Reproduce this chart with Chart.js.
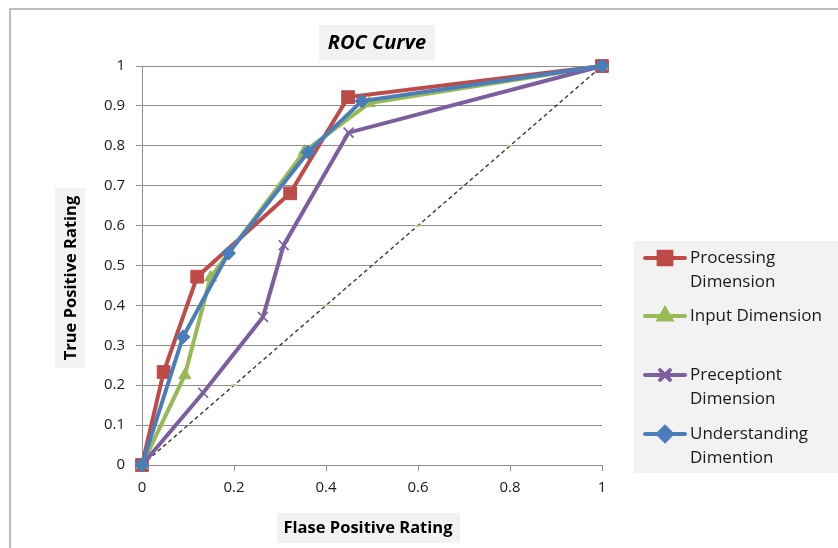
<!DOCTYPE html>
<html>
<head>
<meta charset="utf-8">
<script src="https://cdn.jsdelivr.net/npm/chart.js@4/dist/chart.umd.min.js"></script>
<style>
  html, body { margin: 0; padding: 0; background: #fff; }
  #wrap { width: 838px; height: 548px; }
</style>
</head>
<body>
<div id="wrap"><canvas id="myChart" width="838" height="548"></canvas></div>
<script>
// values
const seriesNames = ["Processing Dimension", "Input Dimension", "Preceptiont Dimension", "Understanding Dimention"];

const processingX = [0, 0.047, 0.12, 0.322, 0.448, 1];
const processingY = [0, 0.233, 0.472, 0.681, 0.922, 1];

const inputX = [0, 0.093, 0.149, 0.353, 0.494, 1];
const inputY = [0, 0.225, 0.47, 0.786, 0.907, 1];

const perceptionX = [0, 0.133, 0.263, 0.308, 0.449, 1];
const perceptionY = [0, 0.181, 0.371, 0.551, 0.833, 1];

const understandingX = [0, 0.089, 0.188, 0.361, 0.478, 1];
const understandingY = [0, 0.321, 0.531, 0.784, 0.912, 1];

const diagonalX = [0, 0.2, 0.4, 0.6, 0.8, 1];
const diagonalY = [0, 0.2, 0.4, 0.6, 0.8, 1];

const xTicks = [0, 0.2, 0.4, 0.6, 0.8, 1];
const yTicks = [0, 0.1, 0.2, 0.3, 0.4, 0.5, 0.6, 0.7, 0.8, 0.9, 1];

const FONT = "'Open Sans', sans-serif";

function pts(xs, ys) {
  return xs.map((x, i) => ({ x: x, y: ys[i] }));
}

function series(label, xs, ys, color, style, radius, order) {
  return {
    label: label,
    data: pts(xs, ys),
    borderColor: color,
    backgroundColor: color,
    borderWidth: 4,
    pointStyle: style,
    pointRadius: radius,
    pointHoverRadius: radius,
    pointBorderWidth: style === "crossRot" ? 1.6 : 1,
    pointBorderColor: color,
    pointBackgroundColor: color,
    tension: 0,
    order: order,
  };
}

// frame, grey boxes behind titles, titles and the legend
const decor = {
  id: "decor",
  beforeDraw(chart) {
    const c = chart.ctx;
    c.save();
    c.fillStyle = "#fff";
    c.fillRect(0, 0, chart.width, chart.height);
    c.strokeStyle = "#a6a6a6";
    c.lineWidth = 1.5;
    c.beginPath();
    c.moveTo(10, 548);
    c.lineTo(10, 9);
    c.lineTo(838, 9);
    c.stroke();
    c.fillStyle = "#f2f2f2";
    c.fillRect(319, 25, 116, 35);
    c.fillRect(55, 188, 30, 180);
    c.fillRect(277, 513, 183, 30);
    c.fillRect(634, 241, 204, 232);
    c.restore();
  },
  afterDraw(chart) {
    const c = chart.ctx;
    c.save();
    c.fillStyle = "#000";
    c.textAlign = "center";
    c.textBaseline = "middle";
    c.font = "italic bold 20px " + FONT;
    c.fillText("ROC Curve", 377, 43);
    c.font = "bold 16.5px " + FONT;
    c.fillText("Flase Positive Rating", 368, 528);
    c.translate(71, 278);
    c.rotate(-Math.PI / 2);
    c.fillText("True Positive Rating", 0, 0);
    c.restore();

    // legend
    const rowY = [258, 316, 375, 434];
    c.save();
    c.font = "17px " + FONT;
    c.textAlign = "left";
    c.textBaseline = "middle";
    seriesNames.forEach((name, i) => {
      const ds = chart.data.datasets[i];
      const y = rowY[i];
      c.strokeStyle = ds.borderColor;
      c.lineWidth = 4;
      c.lineCap = "round";
      c.beginPath();
      c.moveTo(645, y);
      c.lineTo(685, y);
      c.stroke();
      Chart.helpers.drawPoint(c, {
        pointStyle: ds.pointStyle,
        radius: ds.pointRadius,
        borderWidth: ds.pointBorderWidth,
        rotation: 0,
      }, 665, y);
      c.fillStyle = ds.borderColor;
      c.strokeStyle = ds.borderColor;
      c.lineWidth = ds.pointBorderWidth;
      c.fill();
      c.stroke();
      c.fillStyle = "#1a1a1a";
      let lines = [name];
      if (c.measureText(name).width > 145) {
        const k = name.lastIndexOf(" ");
        lines = [name.slice(0, k), name.slice(k + 1)];
      }
      lines.forEach((t, j) => c.fillText(t, 690, y + j * 24));
    });
    c.restore();
  },
};

const ctx = document.getElementById("myChart");

const rocChart = new Chart(ctx, {
  type: "line",
  data: {
    datasets: [
      series(seriesNames[0], processingX, processingY, "#be4b48", "rect", 9, 4),
      series(seriesNames[1], inputX, inputY, "#98b954", "triangle", 7, 3),
      series(seriesNames[2], perceptionX, perceptionY, "#7d5fa0", "crossRot", 7, 2),
      series(seriesNames[3], understandingX, understandingY, "#4a7ebb", "rectRot", 7, 1),
      {
        label: "diagonal",
        data: pts(diagonalX, diagonalY),
        borderColor: "#3a3a3a",
        borderWidth: 1.4,
        borderDash: [4, 3],
        pointStyle: "line",
        pointRadius: 3,
        pointBorderColor: "#b5d18a",
        pointBorderWidth: 1.5,
        tension: 0,
        order: 5,
      },
    ],
  },
  options: {
    responsive: false,
    animation: false,
    clip: false,
    layout: { padding: { left: 92, right: 236, top: 66, bottom: 0 } },
    plugins: {
      legend: { display: false },
      title: { display: false },
      tooltip: { enabled: false },
    },
    scales: {
      x: {
        type: "linear",
        min: 0,
        max: 1,
        afterFit: (s) => { s.height = 83; },
        afterBuildTicks: (s) => { s.ticks = xTicks.map((v) => ({ value: v })); },
        grid: {
          drawOnChartArea: false,
          color: "#8c8c8c",
          tickLength: 6,
          lineWidth: 1,
        },
        border: { color: "#8c8c8c", width: 1 },
        ticks: {
          padding: 8,
          color: "#1a1a1a",
          font: { family: FONT, size: 15 },
          maxRotation: 0,
          callback: (v) => String(v),
        },
      },
      y: {
        min: 0,
        max: 1,
        afterFit: (s) => { s.width = 50; },
        afterBuildTicks: (s) => { s.ticks = yTicks.map((v) => ({ value: v })); },
        grid: {
          color: "#8c8c8c",
          tickLength: 6,
          lineWidth: 1,
        },
        border: { color: "#8c8c8c", width: 1 },
        ticks: {
          padding: 11,
          color: "#1a1a1a",
          font: { family: FONT, size: 15 },
          callback: (v) => String(v),
        },
      },
    },
  },
  plugins: [decor],
});
</script>
</body>
</html>
